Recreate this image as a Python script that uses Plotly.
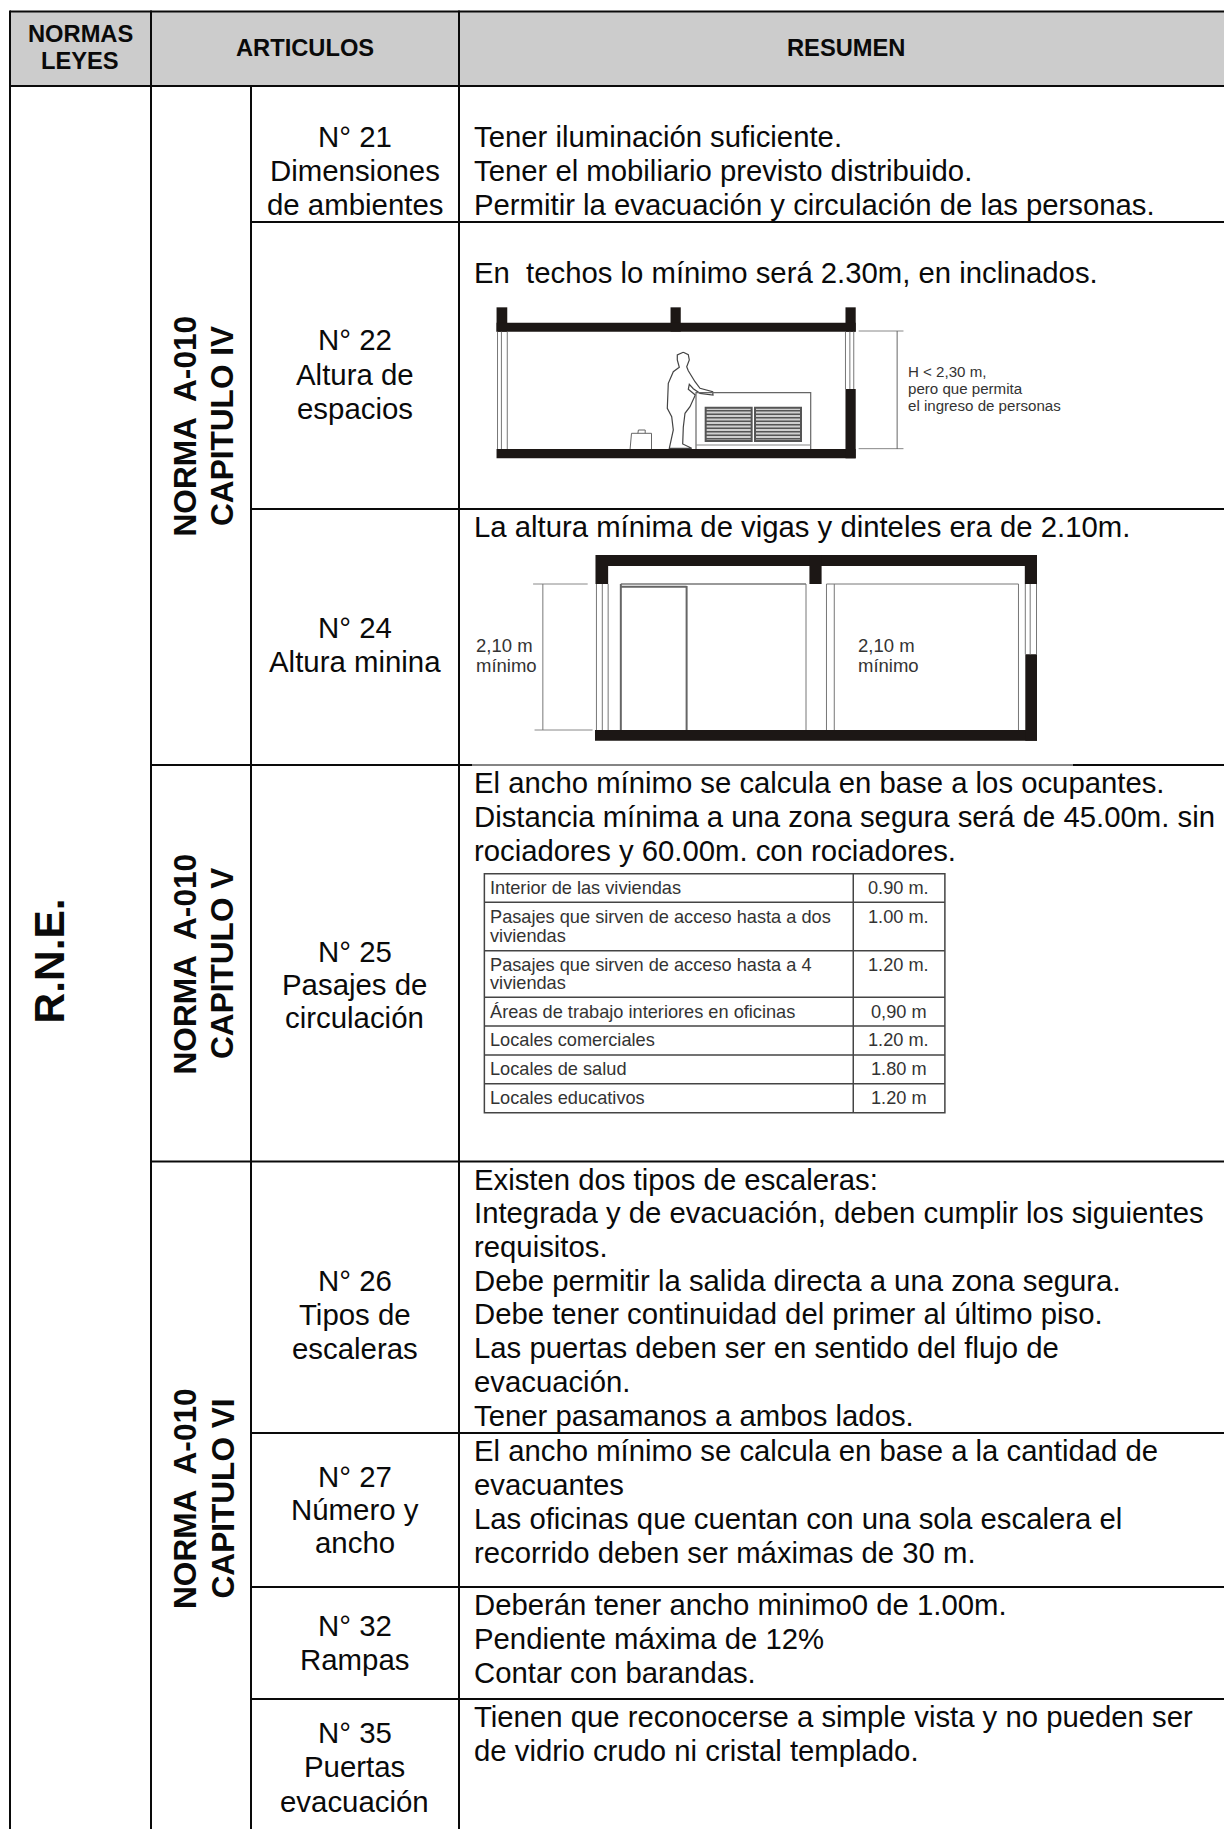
import plotly.graph_objects as go

W, H = 1224, 1829
# ---------- content ----------
HEADER = [("NORMAS", 80, 42.7), ("LEYES", 80, 69.3), ("ARTICULOS", 305, 56), ("RESUMEN", 846, 56)]
GROUP_LABELS = [
    ("NORMA  A-010", "CAPITULO IV", 426),
    ("NORMA  A-010", "CAPITULO V", 964),
    ("NORMA  A-010", "CAPITULO VI", 1498.5),
]
ARTICLES = [
    ("N° 21", 146.7), ("Dimensiones", 181), ("de ambientes", 215),
    ("N° 22", 350), ("Altura de", 385), ("espacios", 418.5),
    ("N° 24", 638), ("Altura minina", 672),
    ("N° 25", 961.7), ("Pasajes de", 995), ("circulación", 1028),
    ("N° 26", 1291), ("Tipos de", 1325), ("escaleras", 1358.5),
    ("N° 27", 1486.7), ("Número y", 1520), ("ancho", 1553),
    ("N° 32", 1636), ("Rampas", 1670),
    ("N° 35", 1743), ("Puertas", 1777), ("evacuación", 1811.5),
]
SUMMARY = [
    ("Tener iluminación suficiente.", 146.7),
    ("Tener el mobiliario previsto distribuido.", 181),
    ("Permitir la evacuación y circulación de las personas.", 215),
    ("En  techos lo mínimo será 2.30m, en inclinados.", 283),
    ("La altura mínima de vigas y dinteles era de 2.10m.", 536.7),
    ("El ancho mínimo se calcula en base a los ocupantes.", 792.7),
    ("Distancia mínima a una zona segura será de 45.00m. sin", 826.7),
    ("rociadores y 60.00m. con rociadores.", 860.7),
    ("Existen dos tipos de escaleras:", 1189.3),
    ("Integrada y de evacuación, deben cumplir los siguientes", 1223),
    ("requisitos.", 1256.7),
    ("Debe permitir la salida directa a una zona segura.", 1290.7),
    ("Debe tener continuidad del primer al último piso.", 1324),
    ("Las puertas deben ser en sentido del flujo de", 1357.7),
    ("evacuación.", 1391.7),
    ("Tener pasamanos a ambos lados.", 1425.7),
    ("El ancho mínimo se calcula en base a la cantidad de", 1461),
    ("evacuantes", 1495),
    ("Las oficinas que cuentan con una sola escalera el", 1528.3),
    ("recorrido deben ser máximas de 30 m.", 1562.3),
    ("Deberán tener ancho minimo0 de 1.00m.", 1615),
    ("Pendiente máxima de 12%", 1648.7),
    ("Contar con barandas.", 1682.3),
    ("Tienen que reconocerse a simple vista y no pueden ser", 1726.7),
    ("de vidrio crudo ni cristal templado.", 1761),
]
WIDTH_ROWS = [
    ("Interior de las viviendas", 403, "0.90 m.", 403),
    ("Pasajes que sirven de acceso hasta a dos", 490, "1.00 m.", 490),
    ("viviendas", 547, "", 0),
    ("Pasajes que sirven de acceso hasta a 4", 635, "1.20 m.", 635),
    ("viviendas", 688, "", 0),
    ("Áreas de trabajo interiores en oficinas", 775, "0,90 m", 775),
    ("Locales comerciales", 860, "1.20 m.", 860),
    ("Locales de salud", 947, "1.80 m", 947),
    ("Locales educativos", 1034, "1.20 m", 1034),
]
FIG1_NOTES = [("H < 2,30 m,", 530), ("pero que permita", 582), ("el ingreso de personas", 633)]
FIG2_NOTES = [("2,10 m", 425), ("mínimo", 485)]

# ---------- table grid ----------
X0, X1, X2, X3 = 10, 151, 251, 459
TOP, HEAD = 11.5, 86
ROW_LINES = [(X2, 222), (X2, 509), (X1, 1161.5), (X2, 1433), (X2, 1587), (X2, 1699)]
SEP_Y = 765
FONT = "Liberation Sans, Arial, sans-serif"
INK = "#0a0a0a"
DARK = "#1c1715"

shapes, ann = [], []

def rect(x0, y0, x1, y1, fill, line=None, lw=0):
    shapes.append(dict(type="rect", x0=x0, y0=y0, x1=x1, y1=y1, fillcolor=fill,
                       line=dict(color=line or fill, width=lw)))

def line(x0, y0, x1, y1, color=INK, lw=2):
    shapes.append(dict(type="line", x0=x0, y0=y0, x1=x1, y1=y1, line=dict(color=color, width=lw)))

def path(pts, color="#555555", lw=1.3, fill=None):
    d = "M" + "L".join(f"{a:.1f},{b:.1f}" for a, b in pts)
    s = dict(type="path", path=d, line=dict(color=color, width=lw))
    if fill:
        s["fillcolor"] = fill
    shapes.append(s)

def text(t, x, base, size, anchor="left", bold=False, color="#0a0a0a"):
    ann.append(dict(text=f"<b>{t}</b>" if bold else t, x=x, y=base - 0.3465 * size,
                    xanchor=anchor, yanchor="middle", showarrow=False, borderpad=0,
                    font=dict(family=FONT, size=size, color=color)))

def vtext(t, x, y, size):
    ann.append(dict(text=f"<b>{t}</b>", x=x, y=y, textangle=-90, xanchor="center", yanchor="middle",
                    showarrow=False, borderpad=0, font=dict(family=FONT, size=size, color="#0a0a0a")))

rect(X0, TOP, W, HEAD, "#cccccc")
line(X0, TOP, W, TOP); line(X0, HEAD, W, HEAD)
line(X0, TOP - 1, X0, H); line(X1, TOP - 1, X1, H); line(X3, TOP - 1, X3, H); line(X2, HEAD, X2, H)
for x, y in ROW_LINES:
    line(x, y, W, y)
line(X1, SEP_Y, 472, SEP_Y); line(472, SEP_Y, 1073, SEP_Y, INK, 1); line(1073, SEP_Y, W, SEP_Y)

for t, x, b in HEADER:
    text(t, x, b, 23.7, "center", True)
vtext("R.N.E.", 48.5, 961, 42.5)
for a, b, y in GROUP_LABELS:
    vtext(a, 184.5, y, 31.6)
    vtext(b, 222, y, 31.6)
for t, b in ARTICLES:
    text(t, 354.5, b, 29.4, "center")
for t, b in SUMMARY:
    text(t, 473, b, 29.3)

# ---------- figure 1 (section with person) ----------
def f1(x, y):
    return 460 + x / 2.052, 200 + y / 3

def r1(a, b, c, d, fill=DARK):
    p, q = f1(a, b), f1(c, d)
    rect(p[0], p[1], q[0], q[1], fill)

def l1(a, b, c, d, color="#777777", lw=1):
    p, q = f1(a, b), f1(c, d)
    line(p[0], p[1], q[0], q[1], color, lw)

for a, b, c, d in [(75, 322, 97, 395), (432, 322, 453, 395), (791, 322, 812, 395),
                   (75, 368, 812, 395), (75, 747, 812, 775), (791, 567, 812, 775)]:
    r1(a, b, c, d)
for x in (77, 85, 97):
    l1(x, 395, x, 747)
for x in (791, 800, 808):
    l1(x, 395, x, 567)
l1(818, 393, 910, 393, "#888888"); l1(818, 746, 910, 746, "#888888"); l1(897, 393, 897, 747, "#666666")
for t, b in FIG1_NOTES:
    x, y = f1(917, b)
    text(t, x, y, 15.1, color="#333333")

def f10(x, y):
    return 640 + x / 3, 340 + y / 3

PERSON = [(130, 37), (145, 44), (148, 60), (140, 80), (145, 92), (165, 125), (180, 145), (218, 155), (219, 165),
          (180, 160), (160, 146), (148, 133), (145, 148), (166, 165), (150, 200), (135, 220), (130, 262), (128, 312),
          (155, 325), (88, 325), (100, 270), (95, 230), (82, 205), (85, 130), (100, 95), (118, 82), (112, 60),
          (112, 45), (130, 37)]
path([f10(*p) for p in PERSON], "#444444", 1.2, "#ffffff")
path([f10(*p) for p in [(168, 165), (168, 158), (512, 158), (512, 327)]], "#666666", 1.2)
path([f10(*p) for p in [(168, 165), (168, 327)]], "#666666", 1.2)
path([f10(*p) for p in [(168, 315), (512, 315)]], "#888888", 1.2)
for a, b in [(197, 335), (345, 483)]:
    p, q = f10(a, 203), f10(b, 303)
    rect(p[0], p[1], q[0], q[1], "#cfcfcf", "#555555", 2)
    y = 212
    while y < 303:
        path([f10(a, y), f10(b, y)], "#555555", 1.4)
        y += 10.5
for seg in [[(349, 747), (352, 700), (393, 700), (393, 747)], [(365, 700), (366, 690), (380, 690), (380, 700)]]:
    path([f1(*p) for p in seg], "#666666", 1)

# ---------- figure 2 (door section) ----------
def f2(x, y):
    return 460 + x / 2.052, 510 + y / 3

def r2(a, b, c, d, fill=DARK):
    p, q = f2(a, b), f2(c, d)
    rect(p[0], p[1], q[0], q[1], fill)

def l2(a, b, c, d, color="#777777", lw=1):
    p, q = f2(a, b), f2(c, d)
    line(p[0], p[1], q[0], q[1], color, lw)

for a, b, c, d in [(278, 135, 1184, 168), (278, 168, 304, 222), (1159, 168, 1184, 222), (717, 135, 742, 222),
                   (277, 660, 1184, 692), (1160, 433, 1184, 692)]:
    r2(a, b, c, d)
for x in (280, 292, 304):
    l2(x, 222, x, 660)
for x in (1160, 1170, 1183):
    l2(x, 222, x, 433)
l2(330, 222, 710, 222, "#777777", 1.5); l2(710, 222, 710, 660)
l2(330, 222, 330, 660, "#666666", 2); l2(465, 228, 465, 660, "#666666", 2); l2(330, 230, 465, 230, "#666666", 2)
l2(752, 222, 1146, 222); l2(752, 222, 752, 660); l2(1146, 222, 1146, 660)
l2(150, 222, 262, 222, "#888888"); l2(153, 660, 272, 660, "#888888")
l2(170, 222, 170, 660); l2(768, 222, 768, 660)
for xx in (31, 815):
    for t, b in FIG2_NOTES:
        x, y = f2(xx, b)
        text(t, x, y, 18.5, color="#333333")

# ---------- figure 3 (width table) ----------
def f3(x, y):
    return 460 + x / 2.052, 760 + y / 3

a, b = f3(50, 341), f3(995, 1058)
rect(a[0], a[1], b[0], b[1], "rgba(0,0,0,0)", "#444444", 1.5)
for y in (427, 572, 712, 798, 885, 971):
    p, q = f3(50, y), f3(995, y)
    line(p[0], p[1], q[0], q[1], "#444444", 1.5)
p, q = f3(807, 341), f3(807, 1058)
line(p[0], p[1], q[0], q[1], "#444444", 1.5)
for t, bl, v, bv in WIDTH_ROWS:
    x, y = f3(60, bl)
    text(t, x, y, 18.2, color="#333333")
    if v:
        x, y = f3(900, bv)
        text(v, x, y, 18.2, "center", color="#333333")

fig = go.Figure()
fig.update_layout(width=W, height=H, margin=dict(l=0, r=0, t=0, b=0), paper_bgcolor="white", plot_bgcolor="white",
                  showlegend=False, shapes=shapes, annotations=ann,
                  xaxis=dict(range=[0, W], visible=False, fixedrange=True),
                  yaxis=dict(range=[H, 0], visible=False, fixedrange=True))
fig.write_html("out.html", config=dict(displayModeBar=False),
               post_script="document.body.style.margin='0';document.documentElement.style.overflow='hidden';")
